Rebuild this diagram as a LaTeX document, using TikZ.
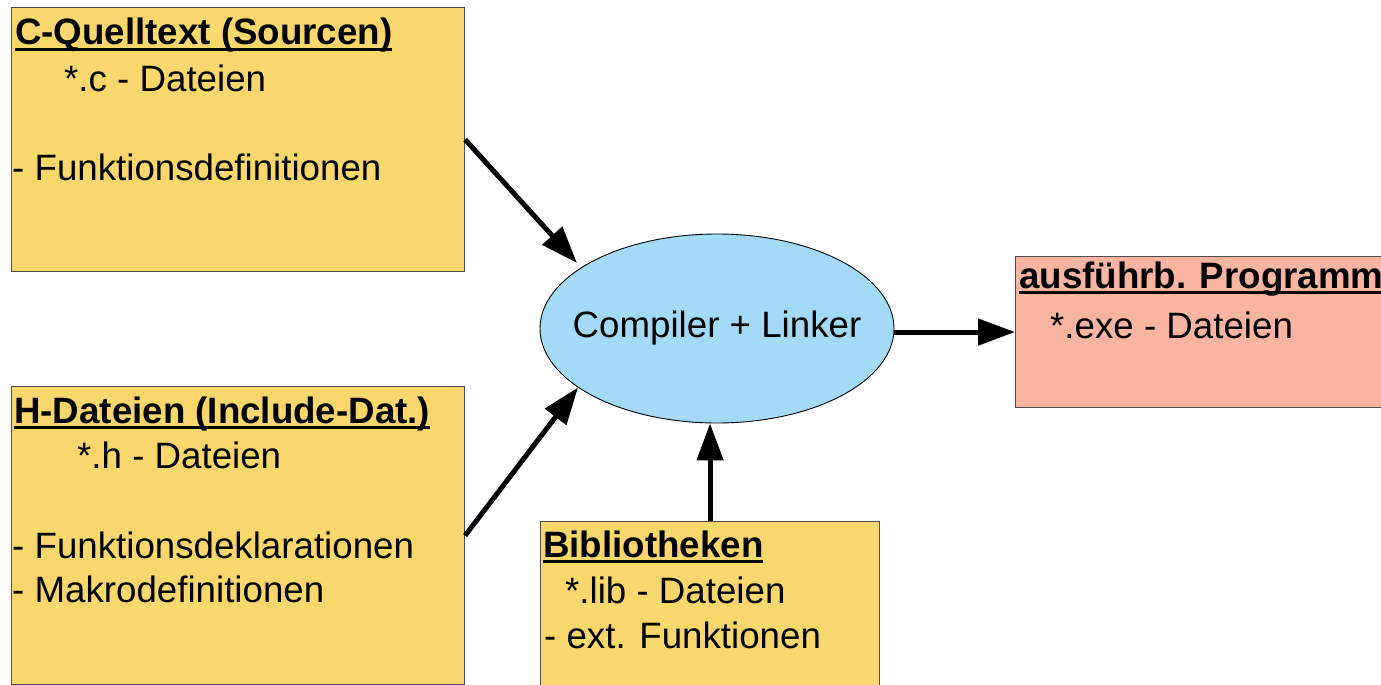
\documentclass[tikz,border=0pt]{standalone}
\usepackage{fontspec}
\setmainfont{Liberation Sans}
\usetikzlibrary{arrows.meta,shapes.geometric,calc}
\definecolor{boxyellow}{RGB}{249,215,108}
\definecolor{boxsalmon}{RGB}{249,180,162}
\definecolor{ellblue}{RGB}{162,218,248}
\newcommand\myul[1]{\setbox0\hbox{#1}\rlap{\rule[-6pt]{\wd0}{3pt}}\box0}
\begin{document}
\begin{tikzpicture}[x=1pt,y=-1pt,
  box/.style={draw=black!70, line width=1.1pt, rectangle, inner sep=0pt, anchor=north west},
  txt/.style={anchor=base west, inner sep=0pt, font=\fontsize{36.7}{44}\selectfont},
  head/.style={anchor=base west, inner sep=0pt, font=\fontsize{36.7}{44}\selectfont\bfseries},
  arr/.style={line width=5pt, -{Triangle[length=37pt,width=26pt]}}]
\clip (0,0) rectangle (1381,685);
\fill[white] (0,0) rectangle (1381,685);
% boxes
\node[box, fill=boxyellow, minimum width=453pt, minimum height=264pt] (cbox) at (11,7) {};
\node[box, fill=boxyellow, minimum width=453pt, minimum height=298pt] (hbox) at (11,386) {};
\node[box, fill=boxyellow, minimum width=339pt, minimum height=180pt] (bib) at (540,521) {};
\node[box, fill=boxsalmon, minimum width=420pt, minimum height=151pt] (exe) at (1015,256) {};
\node[draw=black, line width=0.9pt, ellipse, fill=ellblue, minimum width=354pt, minimum height=189pt, inner sep=0pt] (ell) at (717,328.5) {};
\node[inner sep=0pt, font=\fontsize{36.7}{44}\selectfont] (elltext) at (ell.center) {Compiler + Linker};
\coordinate (tip1) at ($(ell.center)+(-140,-65.5)$);
% texts
\node[head] (c1) at (15,45) {\myul{C-Quelltext (Sourcen)}};
\node[txt] (c2) at (64,92) {*.c - Dateien};
\node[txt] (c3) at (12,180) {- Funktionsdefinitionen};
\node[head] (h1) at (14,423) {\myul{H-Dateien (Include-Dat.)}};
\node[txt] (h2) at (77,468) {*.h - Dateien};
\node[txt] (h3) at (12,558) {- Funktionsdeklarationen};
\node[txt] (h4) at (12,602) {- Makrodefinitionen};
\node[head] (b1) at (543,557) {\myul{Bibliotheken}};
\node[txt] (b2) at (565,603) {*.lib - Dateien};
\node[txt] (b3) at (544,648) {- ext. Funktionen};
\node[head] (e1) at (1019,288) {\myul{ausführb. Programm}};
\node[txt] (e2) at (1050,338) {*.exe - Dateien};
% arrows
\draw[arr] (cbox.east) -- (tip1);
\draw[arr] (hbox.east) -- (ell.203);
\draw[arr] (bib.north) -- (bib.north |- ell.south);
\draw[arr] (ell.east |- exe.west) -- (exe.west);
\end{tikzpicture}
\end{document}
